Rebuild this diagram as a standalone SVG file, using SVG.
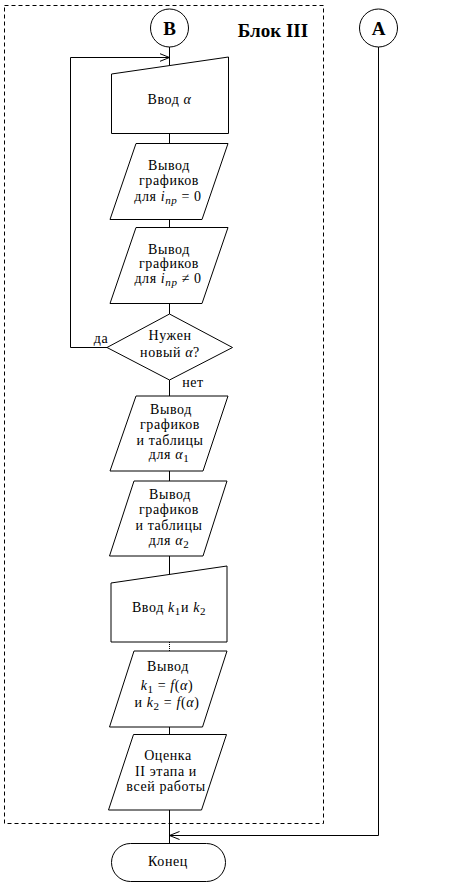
<svg xmlns="http://www.w3.org/2000/svg" width="454" height="884" viewBox="0 0 454 884">
<defs>
<style>
.s{fill:#fff;stroke:#000;stroke-width:1}
.l{fill:none;stroke:#000;stroke-width:1}
.t{font-family:"Liberation Serif","DejaVu Serif",serif;font-size:14px;fill:#000;text-anchor:middle;letter-spacing:0.6px}
.b{font-family:"Liberation Serif","DejaVu Serif",serif;font-size:19px;font-weight:bold;fill:#000;text-anchor:middle}
.i{font-style:italic}
.sb{font-size:11px}
</style>
<marker id="ar" viewBox="0 0 10 10" refX="10" refY="5" markerWidth="10" markerHeight="10" markerUnits="userSpaceOnUse" orient="auto">
<path d="M0,1 L10,5 L0,9" fill="none" stroke="#000" stroke-width="1"/>
</marker>
</defs>
<rect width="454" height="884" fill="#fff"/>
<rect id="block3" x="4.5" y="5.5" width="319" height="818" fill="none" stroke="#000" stroke-dasharray="4,3"/>
<text class="b" x="273" y="37">Блок III</text>
<g id="connectors">
<line class="l" x1="169.5" y1="47" x2="169.5" y2="65.5"/>
<polyline class="l" points="107,347.5 70.5,347.5 70.5,57.5 169.5,57.5" marker-end="url(#ar)"/>
<line class="l" x1="169.5" y1="133" x2="169.5" y2="143"/>
<line class="l" x1="169.5" y1="219" x2="169.5" y2="227"/>
<line class="l" x1="169.5" y1="303" x2="169.5" y2="314"/>
<line class="l" x1="169.5" y1="380" x2="169.5" y2="396"/>
<line class="l" x1="169.5" y1="471" x2="169.5" y2="481"/>
<line class="l" x1="169.5" y1="556" x2="169.5" y2="574.5"/>
<line class="l" x1="169.5" y1="642" x2="169.5" y2="651" stroke-dasharray="1,1"/>
<line class="l" x1="169.5" y1="727" x2="169.5" y2="734"/>
<line class="l" x1="169.5" y1="810" x2="169.5" y2="843"/>
<polyline class="l" points="378.5,47 378.5,835.5 169.5,835.5" marker-end="url(#ar)"/>
<text class="t" x="101" y="343">да</text>
<text class="t" x="193" y="387">нет</text>
</g>
<g id="B"><circle class="s" cx="169.5" cy="28" r="19"/><text class="b" x="169.5" y="35">B</text></g>
<g id="A"><circle class="s" cx="378.5" cy="28" r="19"/><text class="b" x="378.5" y="35">A</text></g>
<g id="input_alpha"><polygon class="s" points="111.5,74 228.5,57 228.5,133.5 111.5,133.5"/><text class="t" x="169.5" y="104">Ввод <tspan class="i">α</tspan></text></g>
<g id="out1"><polygon class="s" points="136,143.5 228,143.5 202,219.5 110,219.5"/>
<text class="t" x="169" y="170">Вывод</text><text class="t" x="169" y="185">графиков</text>
<text class="t" x="168" y="201">для <tspan class="i">i</tspan><tspan class="i sb" dy="3">пр</tspan><tspan dy="-3"> = 0</tspan></text></g>
<g id="out2"><polygon class="s" points="136,227.5 228,227.5 202,303.5 110,303.5"/>
<text class="t" x="169" y="254">Вывод</text><text class="t" x="169" y="268">графиков</text>
<text class="t" x="168" y="283">для <tspan class="i">i</tspan><tspan class="i sb" dy="3">пр</tspan><tspan dy="-3"> ≠ 0</tspan></text></g>
<g id="decision"><polygon class="s" points="169.5,314 232.5,347.5 169.5,380 107,347.5"/>
<text class="t" x="170" y="340">Нужен</text><text class="t" x="170" y="357">новый <tspan class="i">α</tspan>?</text></g>
<g id="out3"><polygon class="s" points="136,396 228,396 203,471 110,471"/>
<text class="t" x="171" y="414">Вывод</text><text class="t" x="170" y="429">графиков</text>
<text class="t" x="170" y="445">и таблицы</text><text class="t" x="169" y="459">для <tspan class="i">α</tspan><tspan class="sb" dy="3">1</tspan></text></g>
<g id="out4"><polygon class="s" points="134,481 227,481 203,556 109.5,556"/>
<text class="t" x="170" y="499">Вывод</text><text class="t" x="169" y="514">графиков</text>
<text class="t" x="169" y="530">и таблицы</text><text class="t" x="169" y="545">для  <tspan class="i">α</tspan><tspan class="sb" dy="3">2</tspan></text></g>
<g id="input_k"><polygon class="s" points="111,583 227,566 227,642 111,642"/>
<text class="t" x="169" y="612">Ввод <tspan class="i">k</tspan><tspan class="sb" dy="3">1</tspan><tspan dy="-3">и  </tspan><tspan class="i">k</tspan><tspan class="sb" dy="3">2</tspan></text></g>
<g id="out5"><polygon class="s" points="134,651 227,651 202.5,727 109.5,727"/>
<text class="t" x="168" y="671">Вывод</text>
<text class="t" x="167" y="690"><tspan class="i">k</tspan><tspan class="sb" dy="3">1</tspan><tspan dy="-3"> = </tspan><tspan class="i">f</tspan>(<tspan class="i">α</tspan>)</text>
<text class="t" x="167" y="707">и <tspan class="i">k</tspan><tspan class="sb" dy="3">2</tspan><tspan dy="-3"> = </tspan><tspan class="i">f</tspan>(<tspan class="i">α</tspan>)</text></g>
<g id="out6"><polygon class="s" points="133.5,734.5 226.5,734.5 201.5,810 108.5,810"/>
<text class="t" x="168" y="760">Оценка</text><text class="t" x="166" y="776">II этапа и</text><text class="t" x="166" y="791">всей работы</text></g>
<g id="end"><rect class="s" x="111.5" y="843.5" width="114" height="38" rx="19" ry="19"/><text class="t" x="168" y="866">Конец</text></g>
</svg>
